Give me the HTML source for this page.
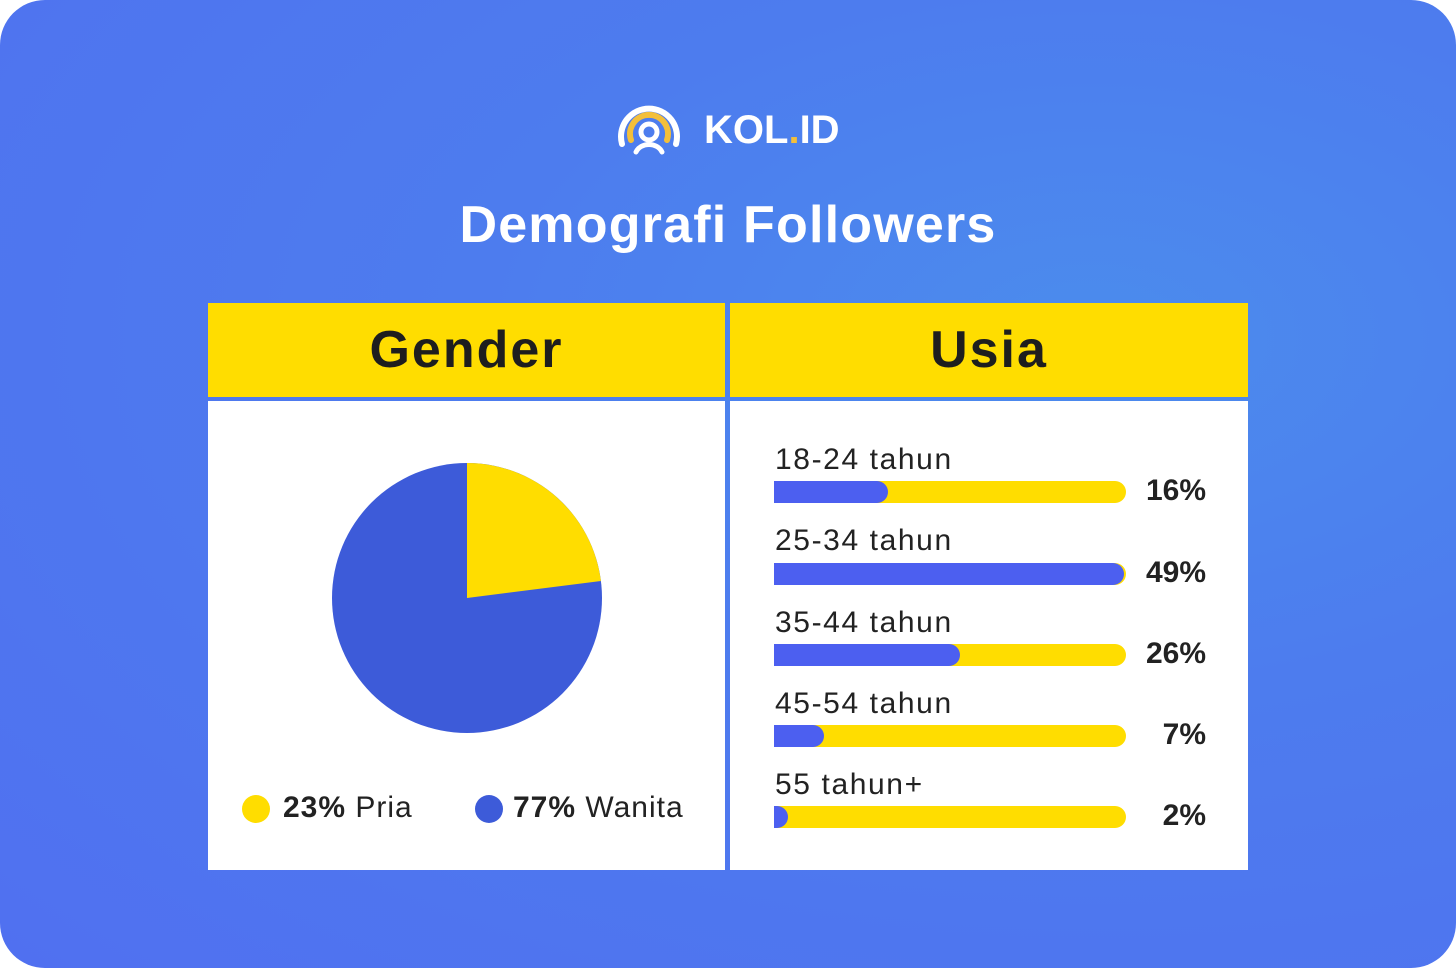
<!DOCTYPE html>
<html><head><meta charset="utf-8"><style>
*{margin:0;padding:0;box-sizing:border-box}
html,body{width:1456px;height:968px;background:#fff;overflow:hidden;font-family:"Liberation Sans",sans-serif}
.card{position:absolute;left:0;top:0;width:1456px;height:968px;border-radius:45px;background:radial-gradient(ellipse at 75% 35%,#4b8ced 0%,#4d7cee 40%,#5070f0 100%)}
.abs{position:absolute}
.hdr{background:#ffdd00;color:#1e1e1e;font-weight:bold;font-size:52px;text-align:center;line-height:94px;letter-spacing:2px}
.body{background:#fff}
.lab{position:absolute;left:775px;font-size:30px;color:#222;letter-spacing:1.6px}
.bar{position:absolute;left:774px;width:352px;height:22px;background:#ffdd00;border-radius:0 11px 11px 0;overflow:hidden}
.bar i{position:absolute;left:0;top:0;height:22px;background:#4c5ff0;border-radius:0 11px 11px 0}
.pct{position:absolute;right:250px;font-size:30px;font-weight:bold;color:#222}
</style></head><body>
<div class="card">
<svg class="abs" style="left:612px;top:96px" width="74" height="60" viewBox="0 0 74 60">
<path d="M10 48 A28 28 0 1 1 64 48" fill="none" stroke="#fff" stroke-width="6" stroke-linecap="round"/>
<path d="M19 44 A19 19 0 1 1 55 44" fill="none" stroke="#f3bf3a" stroke-width="6" stroke-linecap="round"/>
<circle cx="37" cy="36" r="8" fill="none" stroke="#fff" stroke-width="5"/>
<path d="M24 56 A14 12 0 0 1 50 56" fill="none" stroke="#fff" stroke-width="5" stroke-linecap="round"/>
</svg>
<div class="abs" style="left:704px;top:108px;font-size:40px;font-weight:bold;color:#fff;letter-spacing:0px">KOL<span style="color:#f3bf3a">.</span>ID</div>
<div class="abs" style="left:0;width:1456px;top:195px;text-align:center;font-size:52px;font-weight:bold;color:#fff;letter-spacing:1.2px">Demografi Followers</div>
<div class="abs hdr" style="left:208px;top:303px;width:517px;height:94px">Gender</div>
<div class="abs hdr" style="left:730px;top:303px;width:518px;height:94px">Usia</div>
<div class="abs body" style="left:208px;top:401px;width:517px;height:469px"></div>
<div class="abs body" style="left:730px;top:401px;width:518px;height:469px"></div>
<svg class="abs" style="left:0;top:0" width="1456" height="968">
<circle cx="467" cy="598" r="135" fill="#3d5bd9"/>
<path d="M467 598 L467 463 A135 135 0 0 1 600.9 581 Z" fill="#ffdd00"/>
<circle cx="256" cy="809" r="14" fill="#ffdd00"/>
<circle cx="489" cy="809" r="14" fill="#3d5bd9"/>
</svg>
<div class="abs" style="left:283px;top:791px;font-size:30px;color:#222;letter-spacing:1px"><b>23%</b> Pria</div>
<div class="abs" style="left:513px;top:791px;font-size:30px;color:#222;letter-spacing:1px"><b>77%</b> Wanita</div>
<div class="lab" style="top:443px">18-24 tahun</div><div class="bar" style="top:481px"><i style="width:114px"></i></div><div class="pct" style="top:474px">16%</div>
<div class="lab" style="top:524px">25-34 tahun</div><div class="bar" style="top:563px"><i style="width:350px"></i></div><div class="pct" style="top:556px">49%</div>
<div class="lab" style="top:606px">35-44 tahun</div><div class="bar" style="top:644px"><i style="width:186px"></i></div><div class="pct" style="top:637px">26%</div>
<div class="lab" style="top:687px">45-54 tahun</div><div class="bar" style="top:725px"><i style="width:50px"></i></div><div class="pct" style="top:718px">7%</div>
<div class="lab" style="top:768px">55 tahun+</div><div class="bar" style="top:806px"><i style="width:14px"></i></div><div class="pct" style="top:799px">2%</div>
</div>
</body></html>
